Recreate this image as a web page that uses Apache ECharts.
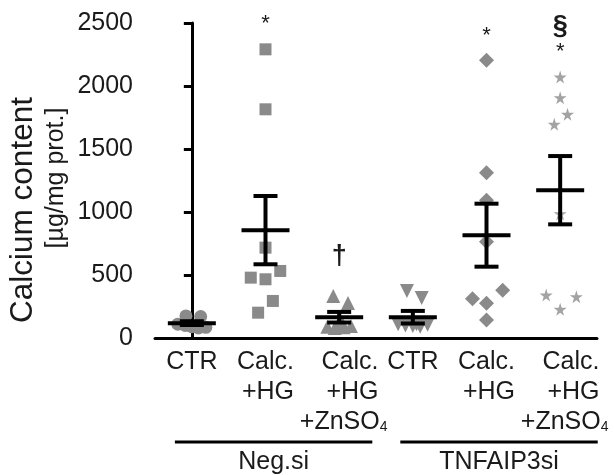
<!DOCTYPE html>
<html>
<head>
<meta charset="UTF-8">
<script src="https://cdn.jsdelivr.net/npm/echarts@6/dist/echarts.min.js"></script>
<style>html,body{margin:0;padding:0;background:#fff;}</style>
</head>
<body>
<div id="chart" style="width:614px;height:475px;"></div>
<script>
// x categories (group order) and y ticks
var categories = ['CTR', 'Calc.\n+HG', 'Calc.\n+HG\n+ZnSO4', 'CTR', 'Calc.\n+HG', 'Calc.\n+HG\n+ZnSO4'];
var yTicks = [0, 500, 1000, 1500, 2000, 2500];

// individual points per group, with their horizontal scatter (in category widths)
var negCtr = [175, 170, 110, 100, 90, 80, 85, 95];
var negCtrJit = [-0.08, 0.12, -0.19, -0.09, 0, 0.09, 0.19, 0.04];
var negHg = [2291, 1815, 717, 532, 479, 466, 294, 201];
var negHgJit = [0, 0, 0, 0.2, -0.2, 0, 0.1, -0.1];
var negZn = [333, 278, 140, 90, 80, 85, 95, 100];
var negZnJit = [-0.08, 0.12, 0.02, -0.16, -0.06, 0.06, 0.16, -0.02];
var tnfCtr = [373, 317, 110, 100, 95, 90, 105, 110];
var tnfCtrJit = [-0.08, 0.12, -0.2, -0.1, 0, 0.1, 0.2, 0.05];
var tnfHg = [2204, 1312, 1093, 764, 378, 312, 275, 143];
var tnfHgJit = [0, 0, 0, 0, 0.22, -0.19, 0, 0];
var tnfZn = [2071, 1907, 1775, 1696, 987, 341, 328, 228];
var tnfZnJit = [0, 0, 0.1, -0.08, 0, -0.19, 0.22, 0];

// mean and SEM per group
var means = [118, 856, 165, 165, 816, 1173];
var sems = [15, 271, 42, 50, 250, 271];

// significance marks
var marks = ['*', '\u2020', '*', '\u00a7', '*'];
var markGroup = [1, 2, 4, 5, 5];
var markValue = [2492, 643, 2401, 2468, 2270];

var groupNames = ['Neg.si', 'TNFAIP3si'];

var font = 'Liberation Sans, Arial, sans-serif';
var txt = '#1a1a1a';
var star = 'path://M50,0 L61,35 L98,35 L68,57 L79,91 L50,70 L21,91 L32,57 L2,35 L39,35 Z';

function pts(vals, jit, g) {
    return vals.map(function (v, i) { return [g + jit[i], v]; });
}

function dots(vals, jit, g, symbol, size, color, rotate) {
    return {
        type: 'scatter',
        xAxisIndex: 1,
        data: pts(vals, jit, g),
        symbol: symbol,
        symbolSize: size,
        symbolRotate: rotate || 0,
        itemStyle: { color: color, opacity: 1 },
        z: 2,
        silent: true
    };
}

var chart = echarts.init(document.getElementById('chart'));

chart.setOption({
    animation: false,
    grid: { left: 155, right: 17, top: 23, bottom: 137 },
    xAxis: [{
        type: 'category',
        data: categories,
        axisLine: { lineStyle: { color: '#000', width: 3 } },
        axisTick: { show: false },
        axisLabel: {
            interval: 0,
            margin: 9,
            formatter: function (v) {
                return v.split('\n').map(function (l) {
                    if (l.indexOf('SO4') >= 0) return '{a|' + l.replace('SO4', 'SO') + '}{sub|4}';
                    return '{a|' + l + '}';
                }).join('\n');
            },
            rich: {
                a: { fontSize: 25, fontFamily: font, color: txt, lineHeight: 30, align: 'right' },
                sub: { fontSize: 14, fontFamily: font, color: txt, lineHeight: 30, align: 'right',
                       verticalAlign: 'bottom', padding: [0, -9, 3, 0] }
            }
        }
    }, {
        type: 'value',
        min: -0.5,
        max: 5.5,
        show: false
    }],
    yAxis: {
        type: 'value',
        min: 0,
        max: 2500,
        interval: 500,
        axisLine: { show: true, lineStyle: { color: '#000', width: 3 } },
        axisTick: { show: true, length: 8, lineStyle: { color: '#000', width: 3 } },
        splitLine: { show: false },
        axisLabel: {
            margin: 22,
            fontSize: 25,
            fontFamily: font,
            color: txt,
            formatter: function (v) { return yTicks.indexOf(v) >= 0 ? String(v) : ''; }
        }
    },
    series: [
        dots(negCtr, negCtrJit, 0, 'circle', 13, '#8a8a8a'),
        dots(negHg, negHgJit, 1, 'rect', 12, '#8a8a8a'),
        dots(negZn, negZnJit, 2, 'triangle', 14, '#8a8a8a'),
        dots(tnfCtr, tnfCtrJit, 3, 'triangle', 14, '#8a8a8a', 180),
        dots(tnfHg, tnfHgJit, 4, 'diamond', 15, '#8a8a8a'),
        dots(tnfZn, tnfZnJit, 5, star, 13, '#a3a3a3'),
        {
            type: 'custom',
            xAxisIndex: 1,
            z: 5,
            silent: true,
            data: means.map(function (m, i) { return [i, m, sems[i]]; }),
            renderItem: function (params, api) {
                var c = api.coord([api.value(0), api.value(1)]);
                var t = api.coord([api.value(0), api.value(1) + api.value(2)]);
                var b = api.coord([api.value(0), api.value(1) - api.value(2)]);
                var st = { stroke: '#000', lineWidth: 4 };
                return {
                    type: 'group',
                    children: [
                        { type: 'line', shape: { x1: c[0] - 24, y1: c[1], x2: c[0] + 24, y2: c[1] }, style: st },
                        { type: 'line', shape: { x1: c[0], y1: t[1], x2: c[0], y2: b[1] }, style: st },
                        { type: 'line', shape: { x1: c[0] - 12, y1: t[1], x2: c[0] + 12, y2: t[1] }, style: st },
                        { type: 'line', shape: { x1: c[0] - 12, y1: b[1], x2: c[0] + 12, y2: b[1] }, style: st }
                    ]
                };
            }
        },
        {
            type: 'custom',
            xAxisIndex: 1,
            z: 6,
            silent: true,
            clip: false,
            data: markValue.map(function (v, i) { return [markGroup[i], v]; }),
            renderItem: function (params, api) {
                var p = api.coord([api.value(0), api.value(1)]);
                var t = marks[params.dataIndex];
                return {
                    type: 'text',
                    x: p[0],
                    y: p[1],
                    style: {
                        text: t,
                        fill: txt,
                        font: (t === '*' ? '22px ' : 'bold 27px ') + font,
                        align: 'center',
                        verticalAlign: 'middle'
                    }
                };
            }
        }
    ]
});

// y axis title and group brackets under the category labels
var spans = [[-0.23, 2.45], [2.83, 5.51]];
var graphics = [
    { type: 'text', x: 23, y: 210, rotation: Math.PI / 2,
      style: { text: 'Calcium content', font: '31.5px ' + font, fill: txt, align: 'center', verticalAlign: 'middle' } },
    { type: 'text', x: 56, y: 178, rotation: Math.PI / 2,
      style: { text: '[\u00b5g/mg prot.]', font: '25px ' + font, fill: txt, align: 'center', verticalAlign: 'middle' } }
];
spans.forEach(function (s, i) {
    var x1 = chart.convertToPixel({ xAxisIndex: 1 }, s[0]);
    var x2 = chart.convertToPixel({ xAxisIndex: 1 }, s[1]);
    graphics.push({ type: 'line', shape: { x1: x1, y1: 442, x2: x2, y2: 442 }, style: { stroke: '#000', lineWidth: 3 } });
    graphics.push({ type: 'text', x: (x1 + x2) / 2, y: 462,
        style: { text: groupNames[i], font: '25px ' + font, fill: txt, align: 'center', verticalAlign: 'middle' } });
});
chart.setOption({ graphic: graphics });
</script>
</body>
</html>
